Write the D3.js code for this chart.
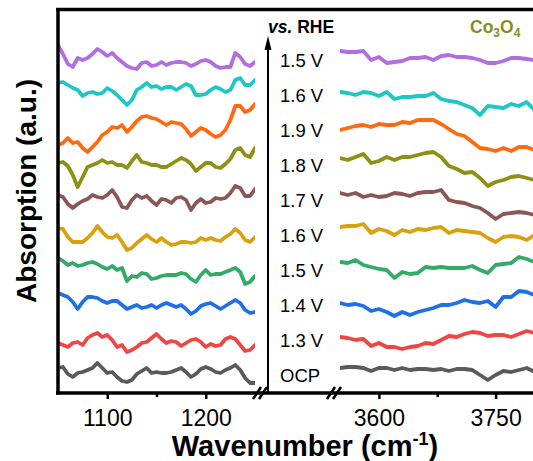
<!DOCTYPE html>
<html><head><meta charset="utf-8">
<script src="https://cdn.jsdelivr.net/npm/d3@7/dist/d3.min.js"></script>
<style>body{margin:0;background:#fff}svg{display:block}text{font-family:Arial,"Liberation Sans",sans-serif;fill:#000}</style>
</head><body><svg id="c" width="533" height="461"></svg>
<script>
// ---- data ----
const seriesLabels = ["1.5 V","1.6 V","1.9 V","1.8 V","1.7 V","1.6 V","1.5 V","1.4 V","1.3 V","OCP"];
const seriesColors = ["#b06ee0","#1fc6c6","#ff6a10","#8f8f14","#8c5656","#d8a10e","#33aa66","#1f6fe5","#f04545","#5a5a5a"];
const leftWavenumbers = d3.range(1050, 1251, 5);
const rightWavenumbers = d3.range(3550, 3801, 10);
const leftMajorTicks = [1100, 1200];
const leftMinorTicks = [1150];
const rightMajorTicks = [3600, 3750];
const rightMinorTicks = [3675];

const left1 = [348,339,329,326,335,333,335,339,344,341,337,340,335,331,327,325,324,330,331,327,328,331,328,330,331,331,330,327,329,332,333,331,327,325,326,326,340,336,329,327,331];
const left2 = [310,311,308,305,303,297,300,301,299,300,305,302,298,293,288,293,303,306,310,306,307,304,306,306,303,306,309,307,298,298,299,303,306,304,301,303,313,315,308,308,313];
const left3 = [248,250,255,250,251,245,241,246,251,258,261,266,265,268,261,266,272,276,277,275,274,271,268,271,270,269,264,257,261,265,263,259,256,258,263,273,287,287,281,283,289];
const left4 = [230,231,227,218,206,216,226,228,230,233,230,231,228,228,225,232,238,231,230,228,228,226,226,229,232,235,233,229,222,226,230,230,226,225,229,234,243,245,238,236,245];
const left5 = [198,196,189,185,189,192,194,198,196,195,198,203,196,186,185,193,198,195,197,192,188,194,193,190,195,196,193,183,190,194,190,191,195,194,195,200,207,205,197,197,204];
const left6 = [165,164,156,151,151,151,155,160,167,161,156,155,158,151,143,145,150,154,158,154,151,155,151,148,149,151,151,150,151,155,153,155,153,152,156,159,164,160,153,151,156];
const left7 = [135,132,128,130,127,128,130,131,129,126,124,127,123,125,112,117,116,120,119,114,115,117,118,118,118,120,119,114,111,118,123,118,119,119,121,123,125,121,109,111,117];
const left8 = [100,98,96,91,84,91,96,96,95,92,90,92,92,88,84,86,88,85,86,88,85,88,90,88,86,88,84,79,82,87,89,90,87,84,87,90,93,90,83,80,81];
const left9 = [50,48,46,50,51,48,55,58,60,56,58,53,46,48,41,43,46,50,51,55,59,54,50,52,51,47,50,53,54,51,46,49,47,48,54,56,54,48,42,43,48];
const left10 = [25,26,19,16,20,21,23,25,30,25,20,21,16,12,11,13,19,22,25,20,21,20,20,21,23,25,21,16,19,24,26,24,21,20,23,25,28,23,15,10,10];

const right1 = [342,341,341,342,333,336,330,331,332,335,335,336,333,337,338,336,336,335,333,330,330,332,335,335,334,333];
const right2 = [301,300,298,301,300,297,301,294,296,296,297,297,300,294,292,291,288,285,278,287,286,285,289,287,291,283];
const right3 = [263,265,267,268,266,269,268,268,271,270,273,273,273,269,264,259,257,251,245,244,242,245,242,246,246,243];
const right4 = [235,233,236,239,230,232,236,233,236,236,238,240,241,236,227,224,220,221,215,207,211,213,216,217,215,213];
const right5 = [200,198,200,196,198,196,197,200,199,197,200,201,201,203,193,191,190,187,185,180,174,179,180,181,180,178];
const right6 = [166,167,167,169,160,164,162,158,163,161,164,163,165,166,160,163,162,161,160,155,151,156,157,156,153,158];
const right7 = [131,130,133,128,126,124,123,115,121,119,120,126,125,126,125,125,125,127,123,120,128,129,130,136,134,131];
const right8 = [90,88,89,87,82,84,81,77,81,78,81,83,85,88,88,90,93,91,90,92,86,96,96,102,101,98];
const right9 = [56,55,53,54,47,50,46,46,44,46,47,50,49,53,57,56,59,61,60,57,58,58,56,59,62,60];
const right10 = [25,26,26,25,22,25,25,23,25,23,24,24,23,24,22,24,24,23,18,13,18,22,21,23,25,21];

const leftSeries = [left1,left2,left3,left4,left5,left6,left7,left8,left9,left10];
const rightSeries = [right1,right2,right3,right4,right5,right6,right7,right8,right9,right10];

// ---- layout ----
const svg = d3.select("#c");
const axisY = 393, topY = 9.5, axisLeftX = 58;
const y = d3.scaleLinear().domain([0, 384]).range([393, 9]);
const xL = d3.scaleLinear().domain([1050, 1250]).range([58, 255]);
const xR = d3.scaleLinear().domain([3550, 3800]).range([340, 534.5]);

const defs = svg.append("defs");
defs.append("clipPath").attr("id","clipL").append("rect").attr("x",58).attr("y",10).attr("width",197).attr("height",382);
defs.append("clipPath").attr("id","clipR").append("rect").attr("x",340).attr("y",10).attr("width",200).attr("height",382);

const lineL = d3.line().x((d,i)=>xL(leftWavenumbers[i])).y(d=>y(d));
const lineR = d3.line().x((d,i)=>xR(rightWavenumbers[i])).y(d=>y(d));

const gL = svg.append("g").attr("clip-path","url(#clipL)");
const gR = svg.append("g").attr("clip-path","url(#clipR)");
leftSeries.forEach((s,k)=>{
  gL.append("path").attr("d",lineL(s)).attr("fill","none").attr("stroke",seriesColors[k])
    .attr("stroke-width",3.8).attr("stroke-linejoin","round").attr("stroke-linecap","round");
});
rightSeries.forEach((s,k)=>{
  gR.append("path").attr("d",lineR(s)).attr("fill","none").attr("stroke",seriesColors[k])
    .attr("stroke-width",3.8).attr("stroke-linejoin","round").attr("stroke-linecap","round");
});

// frame lines
svg.append("line").attr("x1",56).attr("x2",533).attr("y1",topY).attr("y2",topY).attr("stroke","#000").attr("stroke-width",3.5);
svg.append("line").attr("x1",axisLeftX).attr("x2",axisLeftX).attr("y1",8).attr("y2",axisY+1.5).attr("stroke","#000").attr("stroke-width",3.5);
svg.append("line").attr("x1",56).attr("x2",533).attr("y1",axisY).attr("y2",axisY).attr("stroke","#000").attr("stroke-width",3.5);

// axes (ticks + labels)
function styleAxis(g){
  g.select(".domain").remove();
  g.selectAll(".tick line").attr("stroke","#000").attr("stroke-width",2.5);
  g.selectAll(".tick text").attr("font-size",23).attr("fill","#000").style("font-family","Arial, 'Liberation Sans', sans-serif");
}
svg.append("g").attr("transform",`translate(0,${axisY+1})`)
  .call(d3.axisBottom(xL).tickValues(leftMajorTicks).tickSize(5).tickPadding(10.5).tickFormat(d3.format("d"))).call(styleAxis);
svg.append("g").attr("transform",`translate(0,${axisY+1})`)
  .call(d3.axisBottom(xL).tickValues(leftMinorTicks).tickSize(3).tickFormat("")).call(styleAxis);
svg.append("g").attr("transform",`translate(0,${axisY+1})`)
  .call(d3.axisBottom(xR).tickValues(rightMajorTicks).tickSize(5).tickPadding(10.5).tickFormat(d3.format("d"))).call(styleAxis);
svg.append("g").attr("transform",`translate(0,${axisY+1})`)
  .call(d3.axisBottom(xR).tickValues(rightMinorTicks).tickSize(3).tickFormat("")).call(styleAxis);

// axis breaks
function brk(cx){
  [cx-3, cx+3].forEach(bx=>{
    svg.append("line").attr("x1",bx-4).attr("y1",axisY+6).attr("x2",bx+4).attr("y2",axisY-6)
      .attr("stroke","#000").attr("stroke-width",2.5);
  });
}
brk(xL(1250)+5);
brk(xR(3550)-6);

// arrow
const arrowX = xL(1250)+13;
svg.append("line").attr("x1",arrowX).attr("x2",arrowX).attr("y1",axisY).attr("y2",46).attr("stroke","#000").attr("stroke-width",2);
svg.append("path").attr("d",`M${arrowX},36 L${arrowX-3.5},50 L${arrowX+3.5},50 Z`).attr("fill","#000");

// series labels
seriesLabels.forEach((t,k)=>{
  svg.append("text").attr("x",280).attr("y",67+k*35).attr("font-size",18.5).text(t);
});

// vs. RHE
const vs = svg.append("text").attr("x",268).attr("y",33).attr("font-size",17.5).attr("font-weight","bold");
vs.append("tspan").attr("font-style","italic").text("vs.");
vs.append("tspan").text(" RHE");

// Co3O4
const co = svg.append("text").attr("x",470).attr("y",33).attr("font-size",17.5).attr("font-weight","bold").style("fill","#8a8a1e");
co.append("tspan").text("Co");
co.append("tspan").attr("font-size",12).attr("dy",4).text("3");
co.append("tspan").attr("dy",-4).text("O");
co.append("tspan").attr("font-size",12).attr("dy",4).text("4");

// axis titles
svg.append("text").attr("transform","translate(36,191) rotate(-90)").attr("text-anchor","middle")
  .attr("font-size",28).attr("font-weight","bold").text("Absorption (a.u.)");
const xt = svg.append("text").attr("x",305).attr("y",455.5).attr("text-anchor","middle").attr("font-size",29).attr("font-weight","bold");
xt.append("tspan").text("Wavenumber (cm");
xt.append("tspan").attr("font-size",18).attr("dy",-11).text("-1");
xt.append("tspan").attr("dy",11).text(")");
</script></body></html>
